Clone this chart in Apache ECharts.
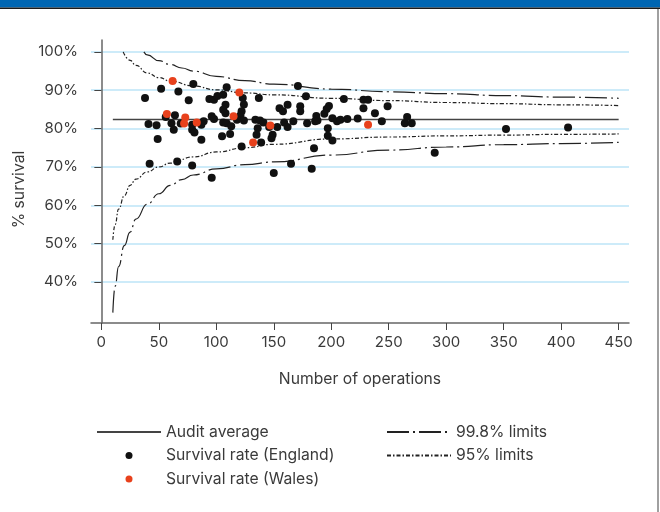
<!DOCTYPE html>
<html>
<head>
<meta charset="utf-8">
<script src="https://cdn.jsdelivr.net/npm/echarts@6/dist/echarts.min.js"></script>
<style>
  html, body { margin: 0; padding: 0; background: #fff; }
  #chart { width: 660px; height: 512px; }
</style>
</head>
<body>
<div id="chart"></div>
<script>
// survival rate per unit
const englandN = [38, 41, 42, 48, 49, 52, 56, 61, 63, 64, 66, 67, 69, 76, 79, 79, 81, 79, 80, 87, 89, 87, 94, 96, 96, 98, 98, 101, 106, 109,
  123, 137, 124, 108, 106, 122, 108, 121, 118, 124, 106, 109, 113, 134, 138, 141, 136, 135, 146, 112, 105, 139, 122,
  171, 178, 211, 155, 158, 162, 173, 173, 198, 196, 194, 187, 188, 186, 201, 205, 208, 214, 167, 179, 159, 153, 162,
  149, 148, 197, 197, 201, 185, 165, 183, 150, 228, 232, 228, 238, 249, 223, 244, 266, 264, 270, 290, 352, 406]
const englandRate = [88.0, 81.2, 70.8, 80.9, 77.3, 90.4, 83.0, 81.4, 79.7, 83.5, 71.4, 89.7, 81.3, 87.4, 81.0, 79.7, 79.0, 70.4, 91.6, 81.0, 81.9, 77.1, 87.7, 67.2, 83.2, 82.5, 87.5, 88.5, 88.8, 90.8,
  88.0, 88.0, 86.3, 86.2, 84.9, 84.5, 84.0, 83.4, 82.3, 82.1, 81.6, 81.4, 80.6, 82.3, 82.1, 81.6, 80.1, 78.4, 80.4, 78.6, 78.0, 76.4, 75.3,
  91.1, 88.4, 87.7, 85.3, 84.5, 86.2, 85.8, 84.5, 85.9, 85.1, 83.9, 83.3, 82.1, 81.9, 82.7, 81.9, 82.3, 82.5, 81.9, 81.4, 81.6, 80.4, 80.4,
  78.4, 77.5, 80.1, 78.1, 76.9, 74.9, 70.8, 69.5, 68.4, 87.5, 87.5, 85.3, 84.0, 85.8, 82.6, 81.9, 83.0, 81.4, 81.4, 73.7, 79.9, 80.3]
const walesN = [62, 57, 73, 72, 83, 120, 115, 132, 147, 232]
const walesRate = [92.4, 83.8, 82.9, 81.3, 81.6, 89.4, 83.2, 76.4, 80.8, 81.0]

// audit average
const avgN = [10, 450]
const avgRate = [82.4, 82.4]

// funnel limits
const up998N = [37, 40, 50, 60, 70, 80, 100, 125, 150, 200, 250, 300, 350, 400, 450]
const up998 = [100, 99.2, 97.7, 96.7, 95.8, 95.0, 93.6, 92.5, 91.6, 90.3, 89.6, 89.1, 88.6, 88.2, 87.9]
const lo998N = [10, 12, 15, 20, 25, 30, 40, 50, 60, 70, 80, 100, 125, 150, 200, 250, 300, 350, 400, 450]
const lo998 = [32.0, 38.9, 44.0, 49.5, 53.0, 56.4, 60.3, 63.0, 65.2, 66.7, 67.9, 69.5, 70.6, 71.3, 73.1, 74.4, 75.2, 75.8, 76.1, 76.4]
const up95N = [19, 25, 30, 40, 50, 60, 80, 100, 125, 150, 200, 250, 300, 350, 400, 450]
const up95 = [100, 97.8, 96.5, 94.5, 93.3, 92.4, 91.1, 90.1, 89.3, 88.8, 87.9, 87.3, 86.8, 86.5, 86.2, 86.0]
const lo95N = [10, 12, 15, 20, 25, 30, 40, 50, 60, 80, 100, 125, 150, 200, 250, 300, 350, 400, 450]
const lo95 = [51.0, 55.0, 59.0, 62.5, 65.2, 66.8, 68.7, 70.0, 71.0, 72.6, 73.9, 75.0, 75.9, 77.3, 77.8, 78.1, 78.3, 78.5, 78.6]

const xTicks = [0, 50, 100, 150, 200, 250, 300, 350, 400, 450]
const yTicks = [40, 50, 60, 70, 80, 90, 100]

const zip = (a, b) => a.map((v, i) => [v, b[i]])

const font = 'Inter'
const txt = '#3a3a3a'
const dash998 = [22, 4, 2, 4]
const dash95 = [4, 2, 1.5, 2]
// legend entries for lines: hide the little symbol ECharts puts on the line icon
const noDot = { opacity: 0, color: 'transparent', borderWidth: 0 }

const limitLine = (name, n, v, dash) => ({
  name: name,
  type: 'line',
  data: zip(n, v),
  symbol: 'none',
  smooth: true,
  smoothMonotone: 'x',
  lineStyle: { color: '#222', width: 1.2, type: dash },
  itemStyle: { color: '#222' },
  z: 2
})

const chart = echarts.init(document.getElementById('chart'))
chart.setOption({
  animation: false,
  backgroundColor: '#fff',
  graphic: [
    { type: 'rect', shape: { x: 0, y: 0, width: 660, height: 7.5 }, style: { fill: '#0066b3' } },
    { type: 'rect', shape: { x: 0, y: 7.5, width: 660, height: 1.5 }, style: { fill: '#1a1a1a' } },
    { type: 'rect', shape: { x: 657, y: 9, width: 2, height: 503 }, style: { fill: '#a0a0a0' } }
  ],
  grid: { left: 91, right: 31, top: 40, bottom: 189 },
  xAxis: {
    type: 'value',
    min: -9,
    max: 459,
    name: 'Number of operations',
    nameLocation: 'middle',
    nameGap: 48,
    nameTextStyle: { fontSize: 15.7, color: txt, fontFamily: font },
    axisLine: { lineStyle: { color: '#666', width: 1.5 } },
    axisTick: { show: true, length: 7, customValues: xTicks, lineStyle: { color: '#444' } },
    axisLabel: { customValues: xTicks, fontSize: 15, color: txt, fontFamily: font, margin: 12 },
    splitLine: { show: false }
  },
  yAxis: {
    type: 'value',
    min: 29.3,
    max: 103.1,
    name: '% survival',
    nameLocation: 'middle',
    nameGap: 60,
    nameTextStyle: { fontSize: 15.7, color: txt, fontFamily: font, padding: [0, 16, 0, 0] },
    axisLine: { show: true, lineStyle: { color: '#666', width: 1.5 } },
    axisTick: { show: true, length: 7, customValues: yTicks, lineStyle: { color: '#444' } },
    axisLabel: { customValues: yTicks, formatter: '{value}%', fontSize: 15, color: txt, fontFamily: font, margin: 13 },
    splitLine: { show: true, lineStyle: { color: '#bde4f7', width: 1.5 } }
  },
  legend: [
    {
      left: 91, top: 419, orient: 'vertical',
      itemWidth: 64, itemHeight: 7, itemGap: 7.5, itemTextGap: 11,
      selectedMode: false,
      data: [
        { name: 'Audit average', itemStyle: noDot },
        'Survival rate (England)',
        'Survival rate (Wales)'
      ],
      textStyle: { fontSize: 15.7, color: txt, fontFamily: font }
    },
    {
      left: 381, top: 419, orient: 'vertical',
      itemWidth: 64, itemHeight: 7, itemGap: 7.5, itemTextGap: 11,
      selectedMode: false,
      data: [
        { name: '99.8% limits', itemStyle: noDot },
        { name: '95% limits', itemStyle: noDot }
      ],
      textStyle: { fontSize: 15.7, color: txt, fontFamily: font }
    }
  ],
  series: [
    {
      name: 'Audit average',
      type: 'line',
      data: zip(avgN, avgRate),
      symbol: 'none',
      lineStyle: { color: '#444', width: 1.5 },
      itemStyle: { color: '#444' },
      z: 2
    },
    limitLine('99.8% limits', up998N, up998, dash998),
    limitLine('99.8% limits', lo998N, lo998, dash998),
    limitLine('95% limits', up95N, up95, dash95),
    limitLine('95% limits', lo95N, lo95, dash95),
    {
      name: 'Survival rate (England)',
      type: 'scatter',
      data: zip(englandN, englandRate),
      symbolSize: 8,
      itemStyle: { color: '#111', opacity: 1 },
      z: 3
    },
    {
      name: 'Survival rate (Wales)',
      type: 'scatter',
      data: zip(walesN, walesRate),
      symbolSize: 8,
      itemStyle: { color: '#e8411c', opacity: 1 },
      z: 4
    }
  ]
})
</script>
</body>
</html>
